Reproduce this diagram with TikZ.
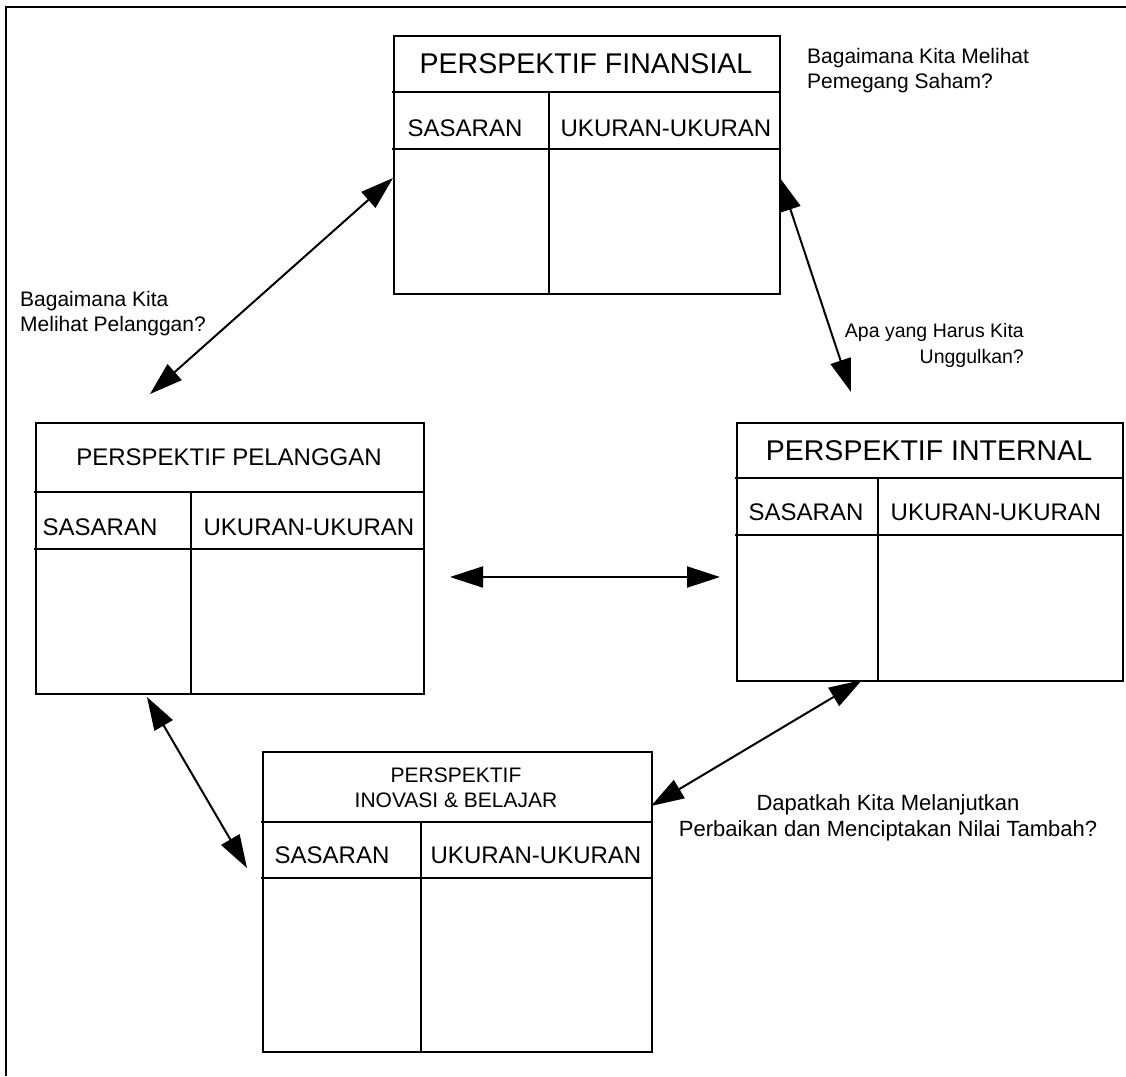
\documentclass[tikz,border=0pt]{standalone}
\usepackage{fontspec}
\setmainfont{Liberation Sans}
\usetikzlibrary{arrows.meta}
\begin{document}
\begin{tikzpicture}[x=1pt,y=-1pt,
  frame/.style={line width=2.4pt},
  boxline/.style={line width=2pt, line cap=rect},
  link/.style={line width=2pt,
    {Triangle[length=33pt,width=21pt]}-{Triangle[length=33pt,width=21pt]}},
  ttl/.style={font=\fontsize{28.5}{33}\selectfont, inner sep=0pt},
  ttlsmall/.style={font=\fontsize{24}{29}\selectfont, inner sep=0pt},
  ttlinov/.style={font=\fontsize{21}{25}\selectfont, inner sep=0pt, align=center},
  sub/.style={font=\fontsize{24}{29}\selectfont, inner sep=0pt},
  ask/.style={font=\fontsize{21}{25}\selectfont, inner sep=0pt},
]
\useasboundingbox (0,0) rectangle (1126,1076);

% outer frame: left and top edges only
\draw[frame] (6,1076) -- (6,7) -- (1126,7);

% ---- Perspektif Finansial ----
\node[draw, boxline, anchor=north west, inner sep=0pt,
      minimum width=386pt, minimum height=258pt] (fin) at (393,35) {};
\draw[boxline] (393,92) -- (779,92);
\draw[boxline] (393,149) -- (779,149);
\draw[boxline] (549,92) -- (549,293);
\node[ttl] (fin-title) at (586,64) {PERSPEKTIF FINANSIAL};
\node[sub] (fin-sas) at (465,128) {SASARAN};
\node[sub] (fin-uk) at (666,128) {UKURAN-UKURAN};

% ---- Perspektif Pelanggan ----
\node[draw, boxline, anchor=north west, inner sep=0pt,
      minimum width=388pt, minimum height=271pt] (pel) at (35,422) {};
\draw[boxline] (35,492) -- (423,492);
\draw[boxline] (35,549) -- (423,549);
\draw[boxline] (191,492) -- (191,693);
\node[ttlsmall] (pel-title) at (229,457) {PERSPEKTIF PELANGGAN};
\node[sub] (pel-sas) at (100,527) {SASARAN};
\node[sub] (pel-uk) at (309,527) {UKURAN-UKURAN};

% ---- Perspektif Internal ----
\node[draw, boxline, anchor=north west, inner sep=0pt,
      minimum width=386pt, minimum height=258pt] (int) at (736,422) {};
\draw[boxline] (736,478) -- (1122,478);
\draw[boxline] (736,535) -- (1122,535);
\draw[boxline] (878,478) -- (878,680);
\node[ttl] (int-title) at (929,451) {PERSPEKTIF INTERNAL};
\node[sub] (int-sas) at (806,512) {SASARAN};
\node[sub] (int-uk) at (996,512) {UKURAN-UKURAN};

% ---- Perspektif Inovasi & Belajar ----
\node[draw, boxline, anchor=north west, inner sep=0pt,
      minimum width=389pt, minimum height=300pt] (ino) at (262,751) {};
\draw[boxline] (262,822) -- (651,822);
\draw[boxline] (262,878) -- (651,878);
\draw[boxline] (421,822) -- (421,1051);
\node[ttlinov] (ino-title) at (456,788) {PERSPEKTIF\\INOVASI \& BELAJAR};
\node[sub] (ino-sas) at (332,855) {SASARAN};
\node[sub] (ino-uk) at (536,855) {UKURAN-UKURAN};

% connector end points
\coordinate (fin-w)  at (393,178);
\coordinate (pel-n)  at (150,394);
\coordinate (fin-e)  at (780,178);
\coordinate (int-n)  at (851,392);
\coordinate (pel-e)  at (450,577);
\coordinate (int-w)  at (720,577);
\coordinate (pel-s)  at (147,697);
\coordinate (ino-w)  at (247,868);
\coordinate (int-s)  at (862,680);
\coordinate (ino-e)  at (651,806);

% two-way links between perspectives
\draw[link] (pel-n) -- (fin-w);
\draw[link] (fin-e) -- (int-n);
\draw[link] (pel-e) -- (int-w);
\draw[link] (pel-s) -- (ino-w);
\draw[link] (int-s) -- (ino-e);

% guiding questions
\node[ask, align=left, anchor=north west] (q-fin) at (807,48)
  {Bagaimana Kita Melihat\\Pemegang Saham?};
\node[ask, align=left, anchor=north west] (q-pel) at (20,291)
  {Bagaimana Kita\\Melihat Pelanggan?};
\node[ask, font=\fontsize{19.5}{26}\selectfont, align=right, anchor=north east]
  (q-int) at (1024,323) {Apa yang Harus Kita\\Unggulkan?};
\node[ask, font=\fontsize{22}{26}\selectfont, align=center, anchor=north]
  (q-ino) at (888,794)
  {Dapatkah Kita Melanjutkan\\Perbaikan dan Menciptakan Nilai Tambah?};
\end{tikzpicture}
\end{document}
